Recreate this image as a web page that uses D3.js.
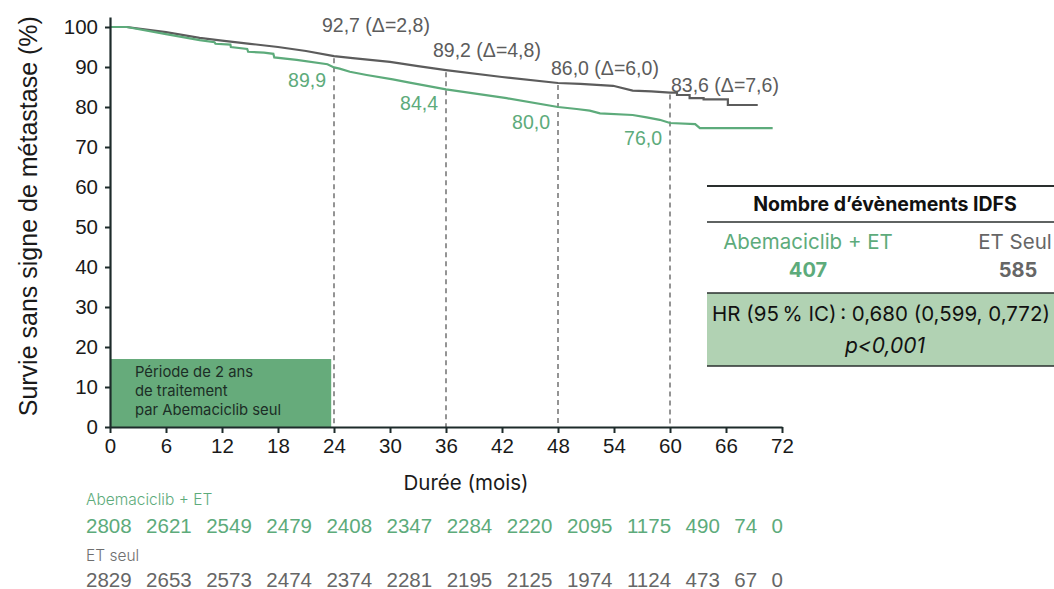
<!DOCTYPE html>
<html>
<head>
<meta charset="utf-8">
<script src="https://cdn.jsdelivr.net/npm/d3@7/dist/d3.min.js"></script>
<style>
  html, body { margin: 0; padding: 0; background: #ffffff; }
  svg { display: block; }
</style>
</head>
<body>
<svg id="chart" width="1054" height="589"></svg>
<script>
// Kaplan–Meier curves (months, % free of metastasis); repeated times mark visible drops
const abemaTimes = [0, 1.8, 6, 9.6, 11.2, 11.3, 12.9, 12.95, 14.7, 14.8, 16.5, 17.5, 17.6, 20, 23.3, 24,
  24.6, 25.7, 27.5, 30.3, 32.1, 36, 42.5, 48,
  50, 51.4, 52.5, 56, 57.5, 58.9, 60, 62.7, 63.2, 71];
const abemaSurv = [100, 100, 98.2, 96.7, 96.2, 95.8, 95.6, 95.0, 94.5, 93.8, 93.6, 93.3, 92.4, 91.8, 90.7, 89.9,
  89.6, 88.8, 88.0, 86.9, 86.1, 84.4, 82.2, 80.0,
  79.5, 79.1, 78.4, 78.0, 77.4, 76.8, 76.0, 75.7, 74.7, 74.7];

const etTimes = [0, 1.8, 6, 9.6, 12, 15, 18, 21, 24,
  26, 30, 33, 36, 42, 48, 50.4, 53.9, 56, 58, 60,
  60.75, 60.75, 62.1, 62.1, 63.6, 63.6, 66.2, 66.2, 69.4];
const etSurv = [100, 100, 98.7, 97.3, 96.6, 95.8, 95.0, 94.0, 92.7,
  92.2, 91.3, 90.2, 89.2, 87.5, 86.0, 85.8, 85.3, 84.1, 83.9, 83.6,
  83.6, 83.0, 83.0, 82.2, 82.2, 81.9, 81.9, 80.5, 80.5];

// Landmark annotations
const landmarkMonths = [24, 36, 48, 60];
const abemaLandmark = [89.9, 84.4, 80.0, 76.0];
const etLandmark = [92.7, 89.2, 86.0, 83.6];
const deltaLandmark = ["2,8", "4,8", "6,0", "7,6"];

// Axis ticks
const xTicks = [0, 6, 12, 18, 24, 30, 36, 42, 48, 54, 60, 66, 72];
const yTicks = [0, 10, 20, 30, 40, 50, 60, 70, 80, 90, 100];

// Number at risk
const abemaAtRisk = [2808, 2621, 2549, 2479, 2408, 2347, 2284, 2220, 2095, 1175, 490, 74, 0];
const etAtRisk = [2829, 2653, 2573, 2474, 2374, 2281, 2195, 2125, 1974, 1124, 473, 67, 0];

// Event table
const eventArms = ["Abemaciclib + ET", "ET Seul"];
const eventCounts = [407, 585];
const hrText = "HR (95\u202F% IC)\u202F: 0,680 (0,599, 0,772)";
const pText = "p<0,001";

const GREEN = "#5dab7b";
const GREY = "#5c5c5c";
const AXIS = "#1d2b2a";
const ARIAL = "'Liberation Sans', Arial, sans-serif";
const GEO = "Inter, 'Open Sans', sans-serif";

const svg = d3.select("#chart");

const x = d3.scaleLinear().domain([0, 72]).range([110, 782]);
const y = d3.scaleLinear().domain([0, 102.5]).range([427, 17]);

// Treatment period block
svg.append("rect")
  .attr("x", x(0)).attr("y", y(17))
  .attr("width", x(23.7) - x(0)).attr("height", y(0) - y(17))
  .attr("fill", "#66ab7b");
const blockText = svg.append("text")
  .attr("font-family", GEO).attr("font-size", 14.8).attr("fill", "#1c2e26");
["Période de 2 ans", "de traitement", "par Abemaciclib seul"].forEach((t, i) => {
  blockText.append("tspan").attr("x", 135).attr("y", 377 + i * 19).text(t);
});

// Landmark dashed lines
svg.append("g").selectAll("line")
  .data(landmarkMonths)
  .join("line")
  .attr("x1", d => x(d)).attr("x2", d => x(d))
  .attr("y1", (d, i) => y(etLandmark[i]) + 2)
  .attr("y2", y(0))
  .attr("stroke", "#7a7a7a").attr("stroke-width", 1.6)
  .attr("stroke-dasharray", "5,4");

// Curves
const line = d3.line().x(d => x(d[0])).y(d => y(d[1]));
svg.append("path")
  .datum(etTimes.map((t, i) => [t, etSurv[i]]))
  .attr("d", line).attr("fill", "none")
  .attr("stroke", GREY).attr("stroke-width", 2.2);
svg.append("path")
  .datum(abemaTimes.map((t, i) => [t, abemaSurv[i]]))
  .attr("d", line).attr("fill", "none")
  .attr("stroke", GREEN).attr("stroke-width", 2.2);

// Axes
const xAxis = svg.append("g")
  .attr("transform", `translate(0,${y(0)})`)
  .call(d3.axisBottom(x).tickValues(xTicks).tickSize(6).tickSizeOuter(0).tickPadding(5));
const yAxis = svg.append("g")
  .attr("transform", `translate(${x(0)},0)`)
  .call(d3.axisLeft(y).tickValues(yTicks).tickSize(5).tickSizeOuter(0).tickPadding(7));
[xAxis, yAxis].forEach(g => {
  g.select(".domain").attr("stroke", AXIS).attr("stroke-width", 2.2);
  g.selectAll(".tick line").attr("stroke", AXIS).attr("stroke-width", 2);
  g.selectAll(".tick text")
    .attr("font-family", ARIAL).attr("font-size", 20.5).attr("fill", "#1a1a1a");
});

// Axis titles
svg.append("text")
  .attr("transform", `translate(28,${y(52.7)}) rotate(-90)`)
  .attr("text-anchor", "middle").attr("dominant-baseline", "central")
  .attr("font-family", ARIAL).attr("font-size", 25).attr("fill", "#1a1a1a")
  .text("Survie sans signe de métastase (%)");
svg.append("text")
  .attr("x", 466).attr("y", 490)
  .attr("text-anchor", "middle")
  .attr("font-family", GEO).attr("font-size", 20.5).attr("fill", "#1a1a1a")
  .text("Durée (mois)");

// Landmark labels
const etLabelOffset = [[-12, -31], [-13, -20], [-7, -15], [1, -8]];
svg.append("g").selectAll("text")
  .data(landmarkMonths)
  .join("text")
  .attr("x", (d, i) => x(d) + etLabelOffset[i][0])
  .attr("y", (d, i) => y(etLandmark[i]) + etLabelOffset[i][1])
  .attr("dominant-baseline", "central")
  .attr("font-family", ARIAL).attr("font-size", 19.5).attr("fill", GREY)
  .text((d, i) => `${etLandmark[i].toFixed(1).replace(".", ",")} (\u0394=${deltaLandmark[i]})`);
const abLabelOffset = [13, 14, 15, 15];
svg.append("g").selectAll("text")
  .data(landmarkMonths)
  .join("text")
  .attr("x", d => x(d) - 8)
  .attr("y", (d, i) => y(abemaLandmark[i]) + abLabelOffset[i])
  .attr("text-anchor", "end").attr("dominant-baseline", "central")
  .attr("font-family", ARIAL).attr("font-size", 19.5).attr("fill", GREEN)
  .text((d, i) => abemaLandmark[i].toFixed(1).replace(".", ","));

// Number at risk rows, laid out left to right
function riskRow(values, color, yPos) {
  const g = svg.append("g");
  let cx = 86;
  values.forEach(v => {
    const t = g.append("text")
      .attr("x", cx).attr("y", yPos)
      .attr("dominant-baseline", "central")
      .attr("font-family", ARIAL).attr("font-size", 20.5).attr("fill", color)
      .text(v);
    cx += t.node().getComputedTextLength() + 14.5;
  });
}
svg.append("text")
  .attr("x", 86).attr("y", 499).attr("dominant-baseline", "central")
  .attr("font-family", GEO).attr("font-weight", 300).attr("font-size", 15.5).attr("fill", GREEN)
  .text("Abemaciclib + ET");
riskRow(abemaAtRisk, GREEN, 525);
svg.append("text")
  .attr("x", 86).attr("y", 555).attr("dominant-baseline", "central")
  .attr("font-family", GEO).attr("font-weight", 300).attr("font-size", 15.5).attr("fill", "#6f6f6f")
  .text("ET seul");
riskRow(etAtRisk, "#666666", 579);

// Event table
const tx0 = 707, tx1 = 1054;
const table = svg.append("g");
table.append("rect")
  .attr("x", tx0).attr("y", 293).attr("width", tx1 - tx0).attr("height", 73)
  .attr("fill", "#b1d2b3");
[[186, 2], [222, 1.6], [293, 1.6], [366, 1.6]].forEach(([yy, w]) => {
  table.append("line")
    .attr("x1", tx0).attr("x2", tx1).attr("y1", yy).attr("y2", yy)
    .attr("stroke", "#2a2f2e").attr("stroke-width", w);
});
table.append("text")
  .attr("x", 885).attr("y", 204).attr("text-anchor", "middle").attr("dominant-baseline", "central")
  .attr("font-family", GEO).attr("font-weight", 700).attr("font-size", 19.5).attr("fill", "#111")
  .text("Nombre d’évènements IDFS");
const armX = [808, 1015];
const armColor = [GREEN, "#666666"];
table.selectAll("text.arm")
  .data(eventArms)
  .join("text").attr("class", "arm")
  .attr("x", (d, i) => armX[i]).attr("y", 241)
  .attr("text-anchor", "middle").attr("dominant-baseline", "central")
  .attr("font-family", GEO).attr("font-size", 20.5).attr("fill", (d, i) => armColor[i])
  .text(d => d);
table.selectAll("text.count")
  .data(eventCounts)
  .join("text").attr("class", "count")
  .attr("x", (d, i) => i === 0 ? armX[0] : 1018).attr("y", 270)
  .attr("text-anchor", "middle").attr("dominant-baseline", "central")
  .attr("font-family", GEO).attr("font-weight", 700).attr("font-size", 20).attr("fill", (d, i) => armColor[i])
  .text(d => d);
table.append("text")
  .attr("x", 712).attr("y", 313).attr("dominant-baseline", "central")
  .attr("font-family", GEO).attr("font-size", 20.5).attr("fill", "#111")
  .text(hrText);
table.append("text")
  .attr("x", 885).attr("y", 345).attr("text-anchor", "middle").attr("dominant-baseline", "central")
  .attr("font-family", GEO).attr("font-style", "italic").attr("font-size", 21).attr("fill", "#111")
  .text(pText);
</script>
</body>
</html>
